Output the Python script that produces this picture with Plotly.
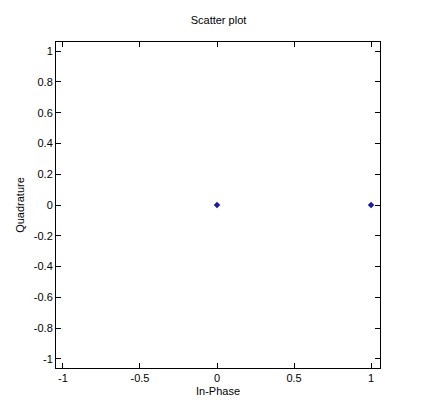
import plotly.graph_objects as go

in_phase = [0, 1]
quadrature = [0, 0]
xticks = [-1, -0.5, 0, 0.5, 1]
yticks = [-1, -0.8, -0.6, -0.4, -0.2, 0, 0.2, 0.4, 0.6, 0.8, 1]

fig = go.Figure(go.Scatter(x=in_phase, y=quadrature, mode="markers",
                           marker=dict(color="#1a1aa6", size=5, symbol="diamond")))
ax = dict(showgrid=False, zeroline=False, showline=True, mirror="ticks", linecolor="black",
          linewidth=1, ticks="inside", ticklen=5, tickcolor="black",
          tickfont=dict(family="Liberation Sans, Arial", size=11, color="black"))
fig.update_xaxes(**ax, range=[-1.045, 1.058], tickvals=xticks,
                 ticktext=[f"{v:g}" for v in xticks],
                 title=dict(text="In-Phase", standoff=4, font=dict(family="Liberation Sans, Arial", size=11, color="black")))
fig.update_yaxes(**ax, range=[-1.06, 1.06], tickvals=yticks,
                 ticktext=[f"{v:g}" for v in yticks],
                 title=dict(text="Quadrature", standoff=6, font=dict(family="Liberation Sans, Arial", size=11, color="black")))
fig.update_layout(width=421, height=420, paper_bgcolor="white", plot_bgcolor="white",
                  margin=dict(l=48, r=49, t=34, b=60), showlegend=False,
                  title=dict(text="Scatter plot", x=0.5, xanchor="center", y=0.97, yanchor="middle",
                             font=dict(family="Liberation Sans, Arial", size=11, color="black")))
fig.write_html("out.html")
